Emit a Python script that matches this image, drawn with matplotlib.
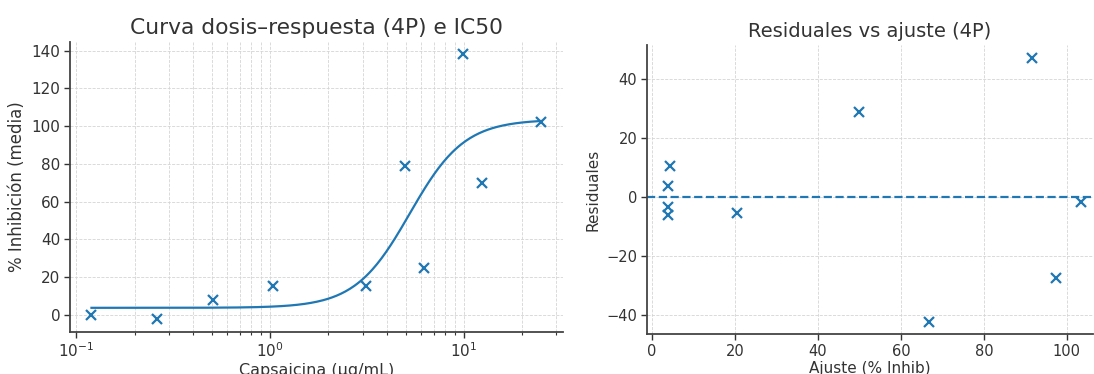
import numpy as np
import matplotlib
matplotlib.use("Agg")
import matplotlib.pyplot as plt

# Data
dose = [0.12, 0.26, 0.51, 1.04, 3.12, 4.97, 6.22, 9.9, 12.4, 24.9]
inhib_mean = [0.0, -2.0, 7.9, 15.3, 15.3, 78.7, 24.8, 138.4, 69.7, 102.0]

# 4-parameter logistic fit parameters
fit_bottom = 3.8
fit_top = 103.5
fit_ic50 = 5.25
fit_hill = 3.08

# Residuals vs fitted values
fitted = [3.8, 3.8, 3.8, 4.4, 20.6, 50.0, 66.7, 91.7, 97.4, 103.3]
residuals = [-3.3, -6.1, 3.7, 10.6, -5.5, 28.8, -42.3, 47.0, -27.5, -1.6]

TXT = "#333333"
C0 = "#1f77b4"
plt.rcParams.update({
    "font.family": ["DejaVu Sans"],
    "text.color": TXT,
    "axes.labelcolor": TXT,
    "xtick.color": TXT,
    "ytick.color": TXT,
    "axes.edgecolor": "#444444",
})

fig = plt.figure(figsize=(10.94, 3.74), dpi=100)
ax1 = fig.add_axes([0.064, 0.1123, 0.4506, 0.7754])
ax2 = fig.add_axes([0.5914, 0.107, 0.4077, 0.7727])

def style(ax, tick_fs):
    for s in ("top", "right"):
        ax.spines[s].set_visible(False)
    for s in ("left", "bottom"):
        ax.spines[s].set_linewidth(1.3)
    ax.tick_params(which="major", labelsize=tick_fs, width=1.0, length=4, pad=3)
    ax.tick_params(which="minor", width=0.8, length=2)
    ax.grid(True, which="both", linestyle="--", linewidth=0.6, color="#d5d5d5")
    ax.set_axisbelow(True)

# Left: dose-response
xs = np.logspace(np.log10(min(dose)), np.log10(max(dose)), 300)
ys = fit_bottom + (fit_top - fit_bottom) / (1 + (fit_ic50 / xs) ** fit_hill)
ax1.set_xscale("log")
ax1.plot(xs, ys, color=C0, lw=1.6)
ax1.plot(dose, inhib_mean, linestyle="none", marker="x", color=C0, ms=7, mew=1.6)
ax1.set_xlim(0.093, 32.4)
ax1.set_ylim(-9.0, 144.5)
ax1.set_yticks([0, 20, 40, 60, 80, 100, 120, 140])
ax1.set_title("Curva dosis–respuesta (4P) e IC50", fontsize=15.7, color=TXT)
ax1.set_xlabel("Capsaicina (µg/mL)", fontsize=11.5, labelpad=2)
ax1.set_ylabel("% Inhibición (media)", fontsize=12, labelpad=4)
style(ax1, 11)

# Right: residuals
ax2.plot(fitted, residuals, linestyle="none", marker="x", color=C0, ms=7, mew=1.6)
ax2.axhline(0, color=C0, linestyle="--", lw=1.6)
ax2.set_xlim(-1.2, 106.3)
ax2.set_ylim(-46.4, 51.5)
ax2.set_xticks([0, 20, 40, 60, 80, 100])
ax2.set_yticks([-40, -20, 0, 20, 40])
ax2.set_title("Residuales vs ajuste (4P)", fontsize=14, color=TXT)
ax2.set_xlabel("Ajuste (% Inhib)", fontsize=11, labelpad=2)
ax2.set_ylabel("Residuales", fontsize=11, labelpad=4)
style(ax2, 10.5)

fig.savefig("out.png", dpi=100)
